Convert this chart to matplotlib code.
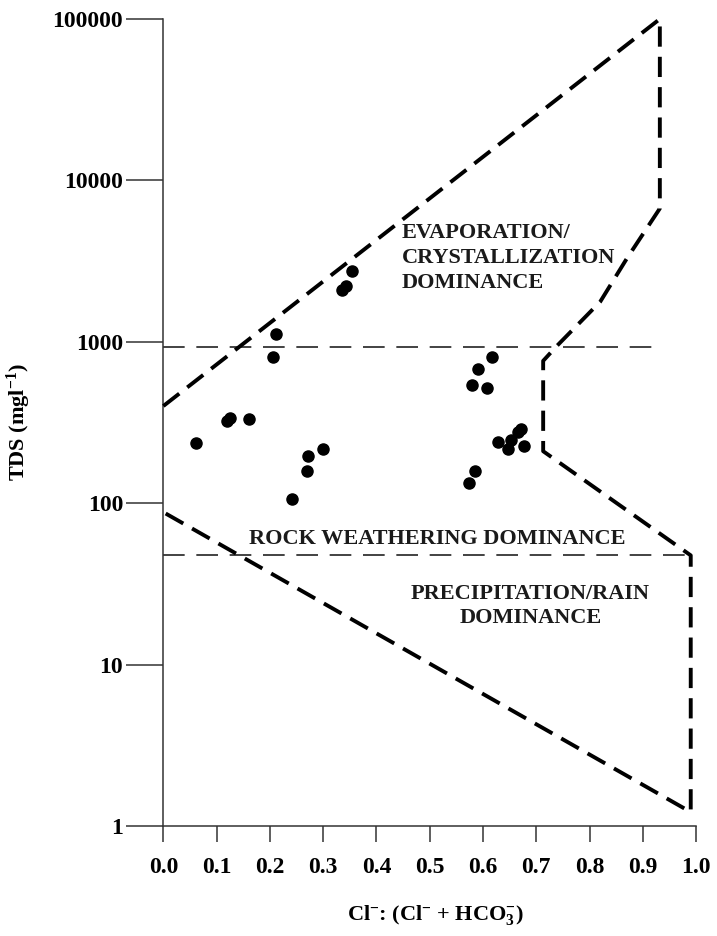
import matplotlib
matplotlib.use('Agg')
import matplotlib.pyplot as plt
from matplotlib.ticker import NullLocator

# sample points: Cl/(Cl+HCO3) ratio and TDS (mg/l)
cl_ratio = [0.354, 0.336, 0.342, 0.212, 0.205, 0.120, 0.126, 0.161, 0.062,
            0.300, 0.272, 0.269, 0.241,
            0.617, 0.591, 0.579, 0.608, 0.666, 0.672, 0.653, 0.629, 0.647,
            0.677, 0.585, 0.574]
tds = [2750, 2100, 2230, 1120, 810, 325, 335, 332, 236,
       216, 197, 159, 106,
       810, 680, 541, 516, 278, 290, 247, 240, 216,
       227, 159, 134]

# Gibbs boundary (thick dashed outline)
bound_x = [0.0, 0.932, 0.932, 0.870, 0.820, 0.739, 0.713, 0.713, 0.99, 0.99, 0.0]
bound_y = [400, 100000, 6700, 3280, 1770, 945, 762, 210, 47.5, 1.22, 88]

# thin dashed horizontal separators
sep_y = [930, 48]
sep_xmax = [0.932, 0.99]

xticks = [0.0, 0.1, 0.2, 0.3, 0.4, 0.5, 0.6, 0.7, 0.8, 0.9, 1.0]
yticks = [1, 10, 100, 1000, 10000, 100000]

plt.rcParams['font.family'] = ['Liberation Serif', 'DejaVu Serif']
plt.rcParams['font.weight'] = 'bold'
plt.rcParams['mathtext.fontset'] = 'custom'
plt.rcParams['mathtext.rm'] = 'Liberation Serif:bold'
plt.rcParams['mathtext.it'] = 'Liberation Serif:bold'
plt.rcParams['mathtext.bf'] = 'Liberation Serif:bold'
plt.rcParams['mathtext.default'] = 'rm'

fig = plt.figure(figsize=(7.17, 9.36), dpi=100)
ax = fig.add_axes([0.2278, 0.1175, 0.7430, 0.8622])

ax.set_yscale('log')
ax.set_xlim(0, 1.0)
ax.set_ylim(1, 100000)

for yv, xm in zip(sep_y, sep_xmax):
    ax.plot([0, xm], [yv, yv], color='#222222', lw=1.2,
            linestyle=(0, (13, 7)), zorder=2)

ax.plot(bound_x, bound_y, color='black', lw=2.8,
        linestyle=(0, (5.2, 2.6)), clip_on=False, zorder=3)

ax.scatter(cl_ratio, tds, s=64, color='black', zorder=4, clip_on=False)

txt = dict(fontsize=16, fontweight='bold', color='#1a1a1a')
ax.text(0.4475, 3300, 'EVAPORATION/\nCRYSTALLIZATION\nDOMINANCE',
        ha='left', va='center', linespacing=1.35, **txt)
ax.text(0.514, 60, 'ROCK WEATHERING DOMINANCE', ha='center', va='center', **txt)
ax.text(0.689, 23, 'PRECIPITATION/RAIN\nDOMINANCE', ha='center', va='center',
        linespacing=1.3, **txt)

for side in ['top', 'right']:
    ax.spines[side].set_visible(False)
for side in ['left', 'bottom']:
    ax.spines[side].set_linewidth(1.1)
    ax.spines[side].set_color('#333333')

ax.set_xticks(xticks)
ax.set_xticklabels(['%.1f' % v for v in xticks])
ax.set_yticks(yticks)
ax.set_yticklabels([str(v) for v in yticks])
ax.yaxis.set_minor_locator(NullLocator())
ax.tick_params(axis='y', direction='out', length=27, width=1.1, color='#333333',
               pad=2, labelsize=17)
ax.tick_params(axis='x', direction='out', length=11.5, width=1.1, color='#333333',
               pad=11, labelsize=17)

ax.set_ylabel(r'TDS (mgl$^{-1}$)', fontsize=16, fontweight='bold')
ax.yaxis.set_label_coords(-0.245, 0.5)
ax.set_xlabel(r'Cl$^{-}$: (Cl$^{-}$ + HCO$_{3}^{-}$)', fontsize=16, fontweight='bold')
ax.xaxis.set_label_coords(0.51, -0.095)

fig.savefig('out.png', dpi=100)
